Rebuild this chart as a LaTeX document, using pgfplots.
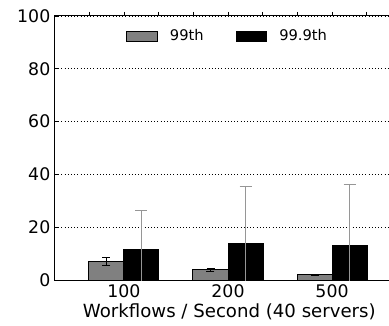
\documentclass[border=0pt]{standalone}
\usepackage{fontspec}
\setmainfont{DejaVu Sans}
\usepackage{pgfplots}
\pgfplotsset{compat=1.18}
\usepackage{pgfplotstable}
\pgfplotstableread{
x y err
0 6.9 1.5
1 3.9 0.6
2 1.9 0.3
}\ptyynine
\pgfplotstableread{
x y err
0 11.4 15.0
1 13.75 21.5
2 13.0 23.2
}\ptyyninenine
\definecolor{barg}{RGB}{128,128,128}
\definecolor{errg}{RGB}{150,150,150}
\begin{document}
\begin{tikzpicture}[x=1pt,y=1pt]
\begin{axis}[
  scale only axis,
  width=259.5pt, height=198pt,
  xmin=-0.663, xmax=2.663,
  ymin=0, ymax=100,
  ytick={0,20,40,60,80,100},
  xtick={-0.333,0,0.333,0.667,1,1.333,1.667,2,2.333},
  xticklabels={},
  xtick pos=right,
  xticklabel pos=left,
  extra x ticks={0,1,2},
  extra x tick labels={100,200,500},
  extra x tick style={major tick length=0pt, xticklabel pos=left, grid=none},
  ytick pos=left,
  tick align=inside,
  major tick length=3pt,
  tick style={black, line width=0.6pt},
  ymajorgrids,
  grid style={black, dotted, line width=0.6pt},
  axis line style={line width=0.75pt},
  tick label style={font=\fontsize{13}{15}\selectfont},
  /pgf/number format/assume math mode=true,
  xlabel={Workflows / Second (40 servers)},
  xlabel style={font=\fontsize{13.6}{15}\selectfont, at={(axis description cs:0.5,0)}, anchor=north, xshift=1pt, yshift=-14pt},
  ybar,
  bar width=26.25pt,
  legend style={draw=none, fill=none, at={(0.5,0.924)}, anchor=center,
    legend columns=2, font=\fontsize{11}{13}\selectfont,
    /tikz/every odd column/.append style={column sep=7pt},
    /tikz/every even column/.append style={column sep=22pt}},
  legend image code/.code={\draw[#1] (0pt,-3.75pt) rectangle (23pt,3.75pt);},
  clip=true,
]
\addplot[fill=barg, draw=black, line width=0.75pt, bar shift=-13.125pt,
  error bars/.cd, y dir=both, y explicit,
  error bar style={black, line width=0.75pt},
  error mark options={rotate=90, mark size=3pt, black, line width=0.75pt}]
  table[x=x, y=y, y error=err] {\ptyynine};
\addlegendentry{99th}
\addplot[fill=black, draw=black, line width=0.75pt, bar shift=13.125pt,
  error bars/.cd, y dir=both, y explicit,
  error bar style={errg, line width=0.75pt},
  error mark options={rotate=90, mark size=4.5pt, errg, line width=0.75pt}]
  table[x=x, y=y, y error=err] {\ptyyninenine};
\addlegendentry{99.9th}
\end{axis}
\pgfresetboundingbox
\path[use as bounding box] (-41.25pt,-33.75pt) rectangle (250.5pt,210pt);
\end{tikzpicture}
\end{document}
